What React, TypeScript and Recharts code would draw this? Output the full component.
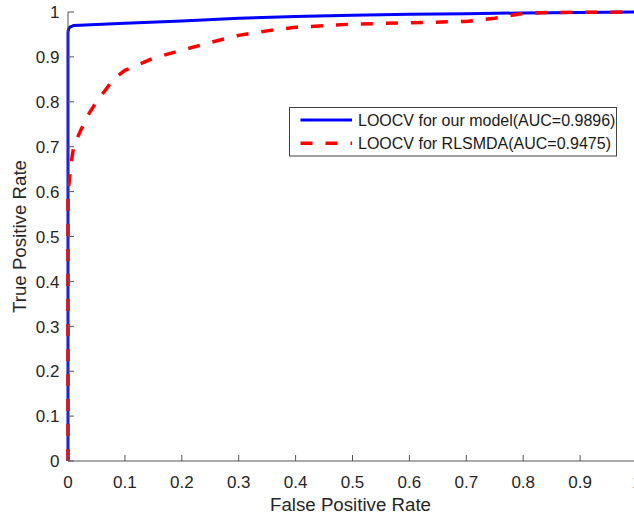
import React from 'react';
import { LineChart, Line, XAxis, YAxis, Legend } from 'recharts';

// ---- data ----
const xTickValues = [0, 0.1, 0.2, 0.3, 0.4, 0.5, 0.6, 0.7, 0.8, 0.9, 1];
const xTickLabels = ['0', '0.1', '0.2', '0.3', '0.4', '0.5', '0.6', '0.7', '0.8', '0.9', '1'];
const yTickValues = [0, 0.1, 0.2, 0.3, 0.4, 0.5, 0.6, 0.7, 0.8, 0.9, 1];
const yTickLabels = ['0', '0.1', '0.2', '0.3', '0.4', '0.5', '0.6', '0.7', '0.8', '0.9', '1'];

const ourName = 'LOOCV for our model(AUC=0.9896)';
const ourFpr = [0, 0, 0.001, 0.003, 0.01, 0.05, 0.1, 0.2, 0.3, 0.4, 0.5, 0.6, 0.7, 0.8, 0.9, 1.0];
const ourTpr = [0, 0.955, 0.962, 0.966, 0.970, 0.972, 0.975, 0.980, 0.986, 0.990, 0.993, 0.995, 0.996, 0.998, 0.999, 1.0];

const rlsName = 'LOOCV for RLSMDA(AUC=0.9475)';
const rlsFpr = [0, 0, 0.002, 0.005, 0.01, 0.02, 0.035, 0.05, 0.08, 0.1, 0.15, 0.2, 0.25, 0.3, 0.35, 0.4, 0.5, 0.6, 0.7, 0.75, 0.8, 0.85, 1.0];
const rlsTpr = [0, 0.6, 0.62, 0.66, 0.70, 0.73, 0.77, 0.80, 0.85, 0.87, 0.897, 0.915, 0.932, 0.948, 0.958, 0.966, 0.973, 0.976, 0.979, 0.986, 0.997, 0.999, 1.0];

const legendOrder = [ourName, rlsName];

const ourData = ourFpr.map((x, i) => ({ fpr: x, tpr: ourTpr[i] }));
const rlsData = rlsFpr.map((x, i) => ({ fpr: x, tpr: rlsTpr[i] }));

// ---- styles ----
const FONT = '"Liberation Sans", Arial, Helvetica, sans-serif';
const TEXT = '#262626';
const AXIS = '#555555';
const TICK_LEN = 6;

const labelFor = (values: number[], labels: string[], v: number) => {
  const i = values.findIndex((t) => Math.abs(t - v) < 1e-9);
  return i >= 0 ? labels[i] : String(v);
};

const BottomTick = (props: any) => {
  const { x, y, payload } = props;
  return (
    <g>
      <line x1={x} y1={y} x2={x} y2={y - TICK_LEN} stroke={AXIS} strokeWidth={1} />
      <text x={x} y={y + 26.5} textAnchor="middle" fill={TEXT} fontSize={17} fontFamily={FONT}>
        {labelFor(xTickValues, xTickLabels, payload.value)}
      </text>
    </g>
  );
};

const TopTick = (props: any) => {
  const { x, y } = props;
  return <line x1={x} y1={y} x2={x} y2={y + TICK_LEN} stroke={AXIS} strokeWidth={1} />;
};

const LeftTick = (props: any) => {
  const { x, y, payload } = props;
  return (
    <g>
      <line x1={x} y1={y} x2={x + TICK_LEN} y2={y} stroke={AXIS} strokeWidth={1} />
      <text x={x - 8.5} y={y + 6.2} textAnchor="end" fill={TEXT} fontSize={17} fontFamily={FONT}>
        {labelFor(yTickValues, yTickLabels, payload.value)}
      </text>
    </g>
  );
};

const RightTick = (props: any) => {
  const { x, y } = props;
  return <line x1={x} y1={y} x2={x - TICK_LEN} y2={y} stroke={AXIS} strokeWidth={1} />;
};

const XTitle = (props: any) => {
  const vb = props.viewBox || {};
  const cx = vb.x + vb.width / 2;
  return (
    <text x={cx - 2} y={511} textAnchor="middle" fill={TEXT} fontSize={18.7} fontFamily={FONT}>
      False Positive Rate
    </text>
  );
};

const YTitle = (props: any) => {
  const vb = props.viewBox || {};
  const cy = vb.y + vb.height / 2;
  return (
    <text
      x={26}
      y={cy}
      textAnchor="middle"
      transform={`rotate(-90, 26, ${cy})`}
      fill={TEXT}
      fontSize={18.7}
      fontFamily={FONT}
    >
      True Positive Rate
    </text>
  );
};

const LegendBox = (props: any) => {
  const raw = props.payload || [];
  const payload = [...raw].sort(
    (a: any, b: any) => legendOrder.indexOf(a.value) - legendOrder.indexOf(b.value)
  );
  return (
    <svg width={330} height={51} style={{ display: 'block' }}>
      <rect x={0.5} y={0.5} width={327} height={48.5} fill="#ffffff" stroke="#404040" strokeWidth={1} />
      {payload.map((entry: any, i: number) => {
        const cy = 13 + i * 23.3;
        const dash = entry.payload && entry.payload.strokeDasharray;
        return (
          <g key={i}>
            <line
              x1={11.5}
              y1={cy}
              x2={63}
              y2={cy}
              stroke={entry.color}
              strokeWidth={dash ? 3.5 : 3}
              strokeDasharray={dash}
            />
            <text x={69} y={cy + 5.8} fill="#1a1a1a" fontSize={16} fontFamily={FONT}>
              {entry.value}
            </text>
          </g>
        );
      })}
    </svg>
  );
};

export default function App() {
  return (
    <div
      style={{
        position: 'absolute',
        left: 0,
        top: 0,
        width: 634,
        height: 516,
        overflow: 'hidden',
        background: '#ffffff',
      }}
    >
      <LineChart width={640} height={516} margin={{ top: 12, right: 3, bottom: 0, left: 1 }}>
        <XAxis
          xAxisId={0}
          dataKey="fpr"
          type="number"
          domain={[0, 1]}
          ticks={xTickValues}
          interval={0}
          height={55}
          tickLine={false}
          tickSize={0}
          tickMargin={0}
          axisLine={{ stroke: AXIS, strokeWidth: 1 }}
          tick={<BottomTick />}
          label={<XTitle />}
          allowDecimals
        />
        <XAxis
          xAxisId="top"
          orientation="top"
          dataKey="fpr"
          type="number"
          domain={[0, 1]}
          ticks={xTickValues}
          interval={0}
          height={0}
          tickLine={false}
          tickSize={0}
          tickMargin={0}
          axisLine={{ stroke: AXIS, strokeWidth: 1 }}
          tick={<TopTick />}
        />
        <YAxis
          yAxisId={0}
          type="number"
          domain={[0, 1]}
          ticks={yTickValues}
          interval={0}
          width={67}
          tickLine={false}
          tickSize={0}
          tickMargin={0}
          axisLine={{ stroke: AXIS, strokeWidth: 1 }}
          tick={<LeftTick />}
          label={<YTitle />}
        />
        <YAxis
          yAxisId="right"
          orientation="right"
          type="number"
          domain={[0, 1]}
          ticks={yTickValues}
          interval={0}
          width={0}
          tickLine={false}
          tickSize={0}
          tickMargin={0}
          axisLine={{ stroke: AXIS, strokeWidth: 1 }}
          tick={<RightTick />}
        />
        <Legend
          layout="horizontal"
          verticalAlign="middle"
          align="center"
          content={<LegendBox />}
          wrapperStyle={{ position: 'absolute', left: 289, top: 107, width: 330, height: 51 }}
        />
        <Line
          data={ourData}
          dataKey="tpr"
          name={ourName}
          xAxisId={0}
          yAxisId={0}
          type="linear"
          stroke="#0000ff"
          strokeWidth={3}
          dot={false}
          activeDot={false}
          isAnimationActive={false}
        />
        <Line
          data={rlsData}
          dataKey="tpr"
          name={rlsName}
          xAxisId={0}
          yAxisId={0}
          type="linear"
          stroke="#ff0000"
          strokeWidth={3.5}
          strokeDasharray="12 13"
          dot={false}
          activeDot={false}
          isAnimationActive={false}
        />
      </LineChart>
    </div>
  );
}
